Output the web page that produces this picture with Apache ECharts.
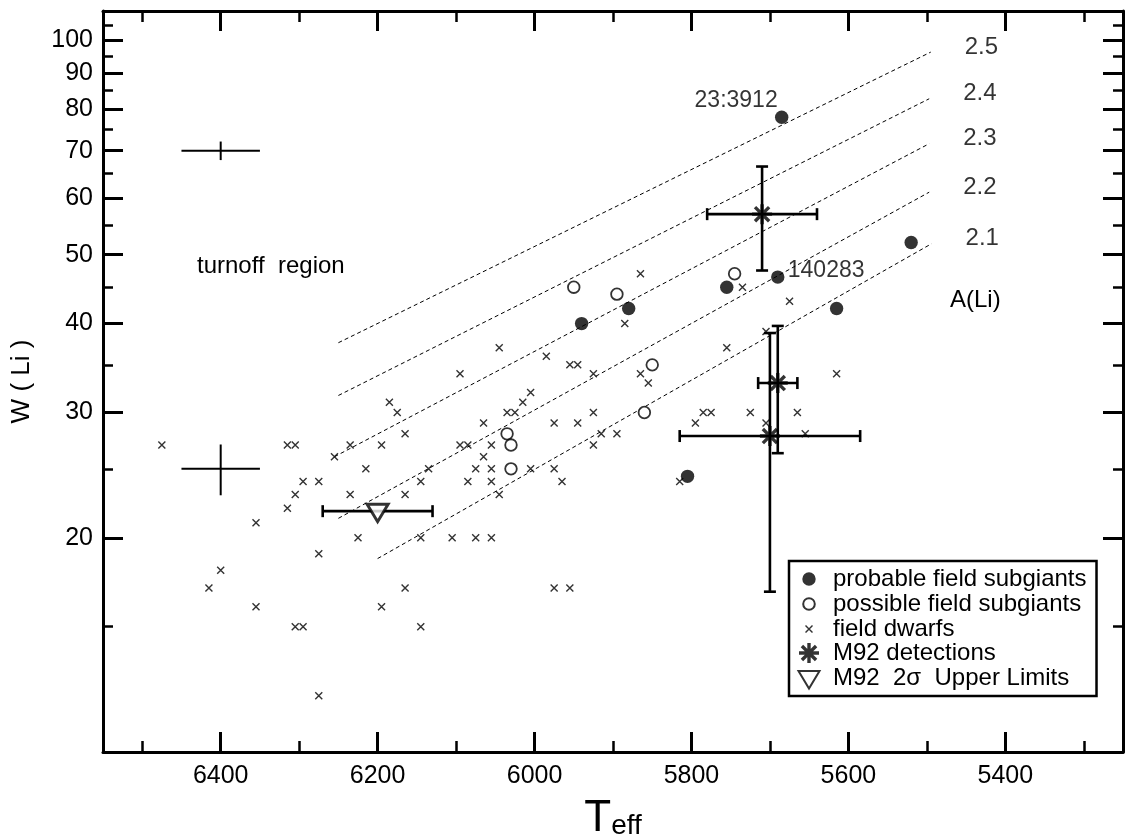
<!DOCTYPE html>
<html><head><meta charset="utf-8">
<script src="https://cdn.jsdelivr.net/npm/echarts@6/dist/echarts.min.js"></script>
<style>html,body{margin:0;padding:0;background:#fff}#c{width:1128px;height:835px}</style>
</head><body><div id="c"></div>
<script>
// ---------- data ----------
const probable = [[5685,78],[5690,46.5],[5755,45],[5880,42],[5940,40],[5615,42],[5520,52],[5805,24.4]];
const probableLabels = ['23:3912','140283','','','','','',''];
const possible = [[5950,45],[5895,44],[5745,47],[5850,35],[5860,30],[6035,28],[6030,27],[6030,25]];
const dwarfs = [
 [6475,27],[6315,27],[6305,27],[6235,27],[6195,27],[6185,31],[6175,30],[6165,28],[6255,26],[6215,25],
 [6135,25],[6295,24],[6275,24],[6145,24],[6305,23],[6235,23],[6165,23],[6315,22],[6355,21],[6225,20],
 [6145,20],[6275,19],[6400,18],[6415,17],[6165,17],[6355,16],[6195,16],[6305,15],[6295,15],[6145,15],
 [6275,12],
 [5865,47],[5885,40],[6045,37],[5985,36],[6095,34],[5955,35],[5945,35],[5925,34],[5865,34],[5855,33],
 [6005,32],[6015,31],[6035,30],[6025,30],[5925,30],[6065,29],[5975,29],[5945,29],[5915,28],[5895,28],
 [6095,27],[6085,27],[6055,27],[5925,27],[6065,26],[6075,25],[6055,25],[6005,25],[5975,25],[6085,24],
 [6055,24],[5965,24],[6045,23],[6105,20],[6075,20],[6055,20],[5975,17],[5955,17],[5815,24],[5795,29],
 [5785,30],[5775,30],
 [5735,45],[5675,43],[5755,37],[5705,39],[5615,34],[5725,30],[5665,30],[5705,29],[5655,28]
];
const m92Det = [[5710,57],[5690,33],[5700,27.8]];
const m92DetErrT = [70,25,115];
const m92DetErrW = [9.5,6.7,11];
const m92Lim = [[6200,21.8]];
const m92LimErrT = [70];
const refPts = [[6400,70],[6400,25]];
const refErrT = [50,50];
const refErrW = [2.1,2.05];
const aliLabels = ['2.5','2.4','2.3','2.2','2.1'];
const aliStart = [[6250,37.6],[6250,31.7],[6255,26.0],[6250,21.3],[6200,18.7]];
const aliEnd = [[5495,96.3],[5497,82.8],[5497,71.6],[5497,61.2],[5494,51.8]];
const xMajorTicks = [5400,5600,5800,6000,6200,6400];
const xMinorTicks = [5300,5500,5700,5900,6100,6300,6500];
const yMajorTicks = [20,30,40,50,60,70,80,90,100];
const yMinorTicks = [15,25,35,45,55,65,75,85,95,105];

// ---------- styling ----------
const FONT = '"Liberation Sans", Arial, Helvetica, sans-serif';
const FRAME = 'M-12,-12 M12,12 ';
const SYM_FILLED = 'path://' + FRAME + 'M-6.7,0 A6.7,6.7 0 1 0 6.7,0 A6.7,6.7 0 1 0 -6.7,0 Z';
const SYM_OPEN = 'path://' + FRAME + 'M-5.8,0 A5.8,5.8 0 1 0 5.8,0 A5.8,5.8 0 1 0 -5.8,0 Z';
const SYM_X = 'path://' + FRAME + 'M-4,-3 L-3,-4 L4,3 L3,4 Z M-3,4 L-4,3 L3,-4 L4,-3 Z';
const SYM_AST = 'path://' + FRAME +
 'M-1.7,-10 L1.7,-10 L1.7,10 L-1.7,10 Z M-10,-1.7 L10,-1.7 L10,1.7 L-10,1.7 Z ' +
 'M-8.27,-5.87 L-5.87,-8.27 L8.27,5.87 L5.87,8.27 Z M-5.87,8.27 L-8.27,5.87 L5.87,-8.27 L8.27,-5.87 Z';
const SYM_TRI = 'path://' + FRAME + 'M-10.5,-7 L10.5,-7 L0,10.5 Z';

function errRender(cap, lw) {
  return function (params, api) {
    const t = api.value(0), w = api.value(1), dt = api.value(2), dw = api.value(3);
    const c = api.coord([t, w]);
    const a = api.coord([t + dt, w]);
    const b = api.coord([t - dt, w]);
    const st = {stroke: '#000', lineWidth: lw, fill: null};
    const ch = [{type: 'line', shape: {x1: a[0], y1: c[1], x2: b[0], y2: c[1]}, style: st}];
    if (cap) {
      ch.push({type: 'line', shape: {x1: a[0], y1: c[1] - cap, x2: a[0], y2: c[1] + cap}, style: st});
      ch.push({type: 'line', shape: {x1: b[0], y1: c[1] - cap, x2: b[0], y2: c[1] + cap}, style: st});
    }
    if (dw > 0) {
      const top = api.coord([t, w + dw]);
      const bot = api.coord([t, w - dw]);
      ch.push({type: 'line', shape: {x1: c[0], y1: top[1], x2: c[0], y2: bot[1]}, style: st});
      if (cap) {
        ch.push({type: 'line', shape: {x1: c[0] - cap, y1: top[1], x2: c[0] + cap, y2: top[1]}, style: st});
        ch.push({type: 'line', shape: {x1: c[0] - cap, y1: bot[1], x2: c[0] + cap, y2: bot[1]}, style: st});
      }
    }
    return {type: 'group', children: ch};
  };
}

const detErrData = m92Det.map((p, i) => [p[0], p[1], m92DetErrT[i], m92DetErrW[i]]);
const limErrData = m92Lim.map((p, i) => [p[0], p[1], m92LimErrT[i], 0]);
const refErrData = refPts.map((p, i) => [p[0], p[1], refErrT[i], refErrW[i]]);

const LBL = {color: '#000', fontSize: 23, fontFamily: FONT};
const probData = probable.map((p, i) => {
  const item = {value: p};
  if (i === 0) item.label = Object.assign({show: true, formatter: probableLabels[i], position: 'left', distance: -8, offset: [0, -17]}, LBL);
  if (i === 1) item.label = Object.assign({show: true, formatter: probableLabels[i], position: 'right', distance: -2, offset: [0, -6]}, LBL);
  return item;
});

function xAx(gridIndex, position, ticks, len, w, labels, line) {
  return {
    type: 'value', gridIndex, position, inverse: true, min: 5250, max: 6550,
    axisLine: {show: line, onZero: false, lineStyle: {color: '#000', width: 3}},
    axisTick: {show: true, inside: true, length: len, customValues: ticks, lineStyle: {color: '#000', width: w}},
    axisLabel: labels ? {show: true, customValues: ticks, color: '#000', fontSize: 25, fontFamily: FONT, margin: 12,
      formatter: v => String(v)} : {show: false},
    splitLine: {show: false}
  };
}
function yAx(gridIndex, position, ticks, len, w, labels, line) {
  return {
    type: 'log', logBase: 10, gridIndex, position, min: 10, max: 110,
    axisLine: {show: line, onZero: false, lineStyle: {color: '#000', width: 3}},
    axisTick: {show: true, inside: true, length: len, customValues: ticks, lineStyle: {color: '#000', width: w}},
    axisLabel: labels ? {show: true, customValues: ticks, color: '#000', fontSize: 25, fontFamily: FONT, margin: 10,
      formatter: v => String(v)} : {show: false},
    splitLine: {show: false}, minorTick: {show: false}
  };
}

const xAxes = [
  xAx(0, 'bottom', xMajorTicks, 20, 3, true, true),
  xAx(0, 'top', xMajorTicks, 20, 3, false, true),
  xAx(1, 'bottom', xMinorTicks, 11, 2.5, false, false),
  xAx(1, 'top', xMinorTicks, 11, 2.5, false, false)
];
xAxes[0].name = '{t|T}{s|eff}';
xAxes[0].nameLocation = 'middle';
xAxes[0].nameGap = 46;
xAxes[0].nameTextStyle = {color: '#000', rich: {
  t: {fontSize: 44, fontFamily: FONT, color: '#000', lineHeight: 42},
  s: {fontSize: 28, fontFamily: FONT, color: '#000', verticalAlign: 'bottom', lineHeight: 42}
}};
const yAxes = [
  yAx(0, 'left', yMajorTicks, 20, 3, true, true),
  yAx(0, 'right', yMajorTicks, 20, 3, false, true),
  yAx(1, 'left', yMinorTicks, 10, 2.5, false, false),
  yAx(1, 'right', yMinorTicks, 10, 2.5, false, false)
];
yAxes[0].name = 'W ( Li )';
yAxes[0].nameLocation = 'middle';
yAxes[0].nameGap = 68;
yAxes[0].nameTextStyle = {color: '#000', fontSize: 26, fontFamily: FONT};

const lineSeries = aliLabels.map((lab, i) => ({
  type: 'line', name: 'A(Li)=' + lab, xAxisIndex: 0, yAxisIndex: 0,
  data: [aliStart[i], aliEnd[i]], symbol: 'none', silent: true, z: 1,
  lineStyle: {color: '#000', width: 1, type: [4, 3]}
}));

const GRID = {left: 103, right: 5, top: 11, bottom: 83, containLabel: false, outerBoundsMode: 'none'};
const option = {
  animation: false,
  backgroundColor: '#fff',
  textStyle: {fontFamily: FONT},
  grid: [Object.assign({}, GRID), Object.assign({}, GRID)],
  xAxis: xAxes,
  yAxis: yAxes,
  legend: {
    orient: 'vertical', left: 789, top: 561,
    data: ['probable field subgiants', 'possible field subgiants', 'field dwarfs', 'M92 detections', 'M92  2σ  Upper Limits'],
    itemWidth: 24, itemHeight: 24, itemGap: 0,
    padding: [6, 10, 5, 7],
    borderColor: '#000', borderWidth: 2.5, backgroundColor: '#fff',
    selectedMode: false,
    textStyle: {color: '#000', fontSize: 24, fontFamily: FONT, padding: [0, 0, 0, 7]}
  },
  graphic: [
    {type: 'text', left: 197, top: 254, style: {text: 'turnoff  region', font: '24px ' + FONT, fill: '#000'}},
    {type: 'text', left: 950, top: 288, style: {text: 'A(Li)', font: '24px ' + FONT, fill: '#000'}}
  ],
  series: [
    ...lineSeries,
    {
      type: 'scatter', name: 'line labels', data: aliEnd, symbolSize: 2, itemStyle: {color: 'rgba(0,0,0,0)'}, silent: true,
      label: {show: true, position: 'right', distance: 33, offset: [0, -5], color: '#000', fontSize: 24, fontFamily: FONT,
        formatter: p => aliLabels[p.dataIndex]}
    },
    {type: 'custom', name: 'ref errors', renderItem: errRender(0, 2), data: refErrData, encode: {x: 0, y: 1}, silent: true, z: 3},
    {type: 'custom', name: 'det errors', renderItem: errRender(6, 2.6), data: detErrData, encode: {x: 0, y: 1}, silent: true, z: 3},
    {type: 'custom', name: 'lim errors', renderItem: errRender(6, 2.6), data: limErrData, encode: {x: 0, y: 1}, silent: true, z: 3},
    {type: 'scatter', name: 'field dwarfs', data: dwarfs, symbol: SYM_X, symbolSize: 24, itemStyle: {color: '#000'}, z: 4},
    {type: 'scatter', name: 'possible field subgiants', data: possible, symbol: SYM_OPEN, symbolSize: 24,
      itemStyle: {color: '#fff', borderColor: '#000', borderWidth: 1.8}, z: 5},
    {type: 'scatter', name: 'probable field subgiants', data: probData, symbol: SYM_FILLED, symbolSize: 24,
      itemStyle: {color: '#000'}, z: 5},
    {type: 'scatter', name: 'M92 detections', data: m92Det, symbol: SYM_AST, symbolSize: 24, itemStyle: {color: '#000'}, z: 6},
    {type: 'scatter', name: 'M92  2σ  Upper Limits', data: m92Lim, symbol: SYM_TRI, symbolSize: 24,
      itemStyle: {color: '#fff', borderColor: '#000', borderWidth: 3}, z: 6}
  ]
};
const chart = echarts.init(document.getElementById('c'));
chart.setOption(option);
</script>
</body></html>
